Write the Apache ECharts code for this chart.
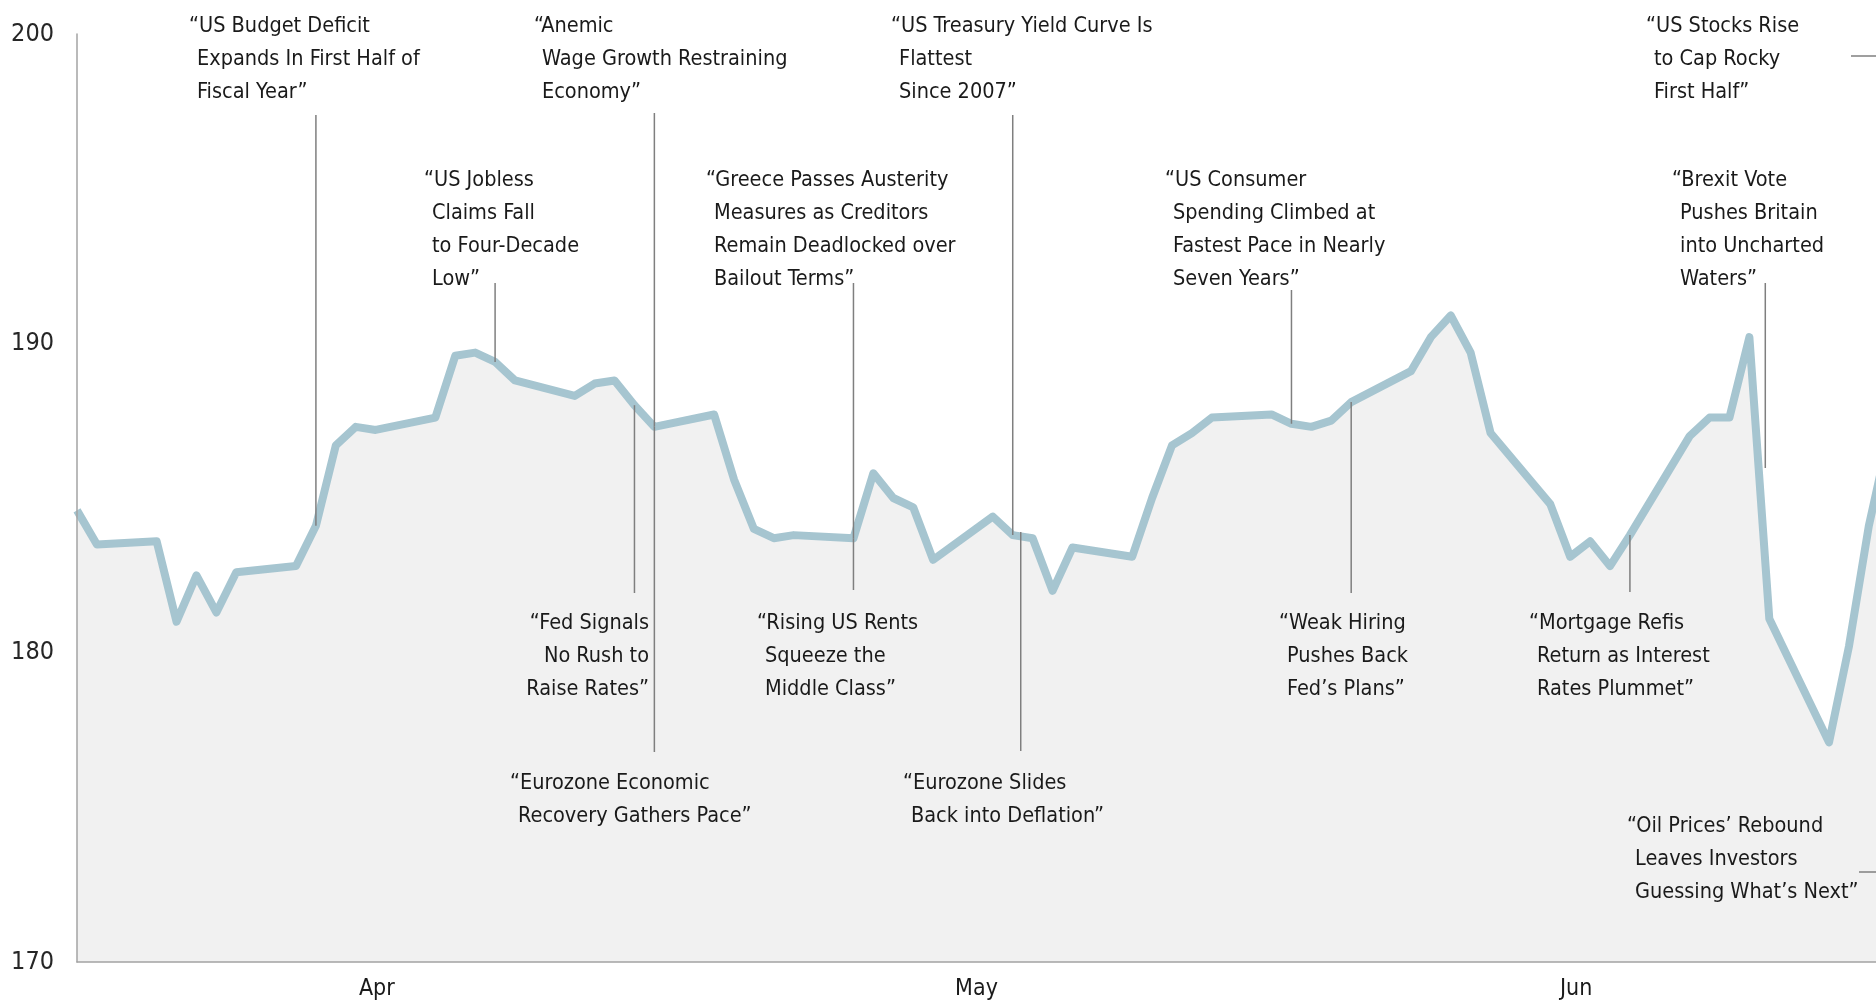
<!DOCTYPE html>
<html>
<head>
<meta charset="utf-8">
<script src="https://cdn.jsdelivr.net/npm/echarts@6/dist/echarts.min.js"></script>
<style>
  html, body { margin: 0; padding: 0; background: #fff; }
  #chart { width: 1876px; height: 1001px; }
</style>
</head>
<body>
<div id="chart"></div>
<script>
// daily closes
var dates = [
    '2016-03-31', '2016-04-01', '2016-04-04', '2016-04-05', '2016-04-06', '2016-04-07', '2016-04-08',
    '2016-04-11', '2016-04-12', '2016-04-13', '2016-04-14', '2016-04-15',
    '2016-04-18', '2016-04-19', '2016-04-20', '2016-04-21', '2016-04-22',
    '2016-04-25', '2016-04-26', '2016-04-27', '2016-04-28', '2016-04-29',
    '2016-05-02', '2016-05-03', '2016-05-04', '2016-05-05', '2016-05-06',
    '2016-05-09', '2016-05-10', '2016-05-11', '2016-05-12', '2016-05-13',
    '2016-05-16', '2016-05-17', '2016-05-18', '2016-05-19', '2016-05-20',
    '2016-05-23', '2016-05-24', '2016-05-25', '2016-05-26', '2016-05-27',
    '2016-05-30', '2016-05-31', '2016-06-01', '2016-06-02', '2016-06-03',
    '2016-06-06', '2016-06-07', '2016-06-08', '2016-06-09', '2016-06-10',
    '2016-06-13', '2016-06-14', '2016-06-15', '2016-06-16', '2016-06-17',
    '2016-06-20', '2016-06-21', '2016-06-22', '2016-06-23', '2016-06-24',
    '2016-06-27', '2016-06-28', '2016-06-29', '2016-06-30'
];
var values = [
    184.6, 183.5, 183.6, 181.0, 182.5, 181.3, 182.6,
    182.8, 184.1, 186.7, 187.3, 187.2,
    187.6, 189.6, 189.7, 189.4, 188.8,
    188.3, 188.7, 188.8, 188.0, 187.3,
    187.7, 185.6, 184.0, 183.7, 183.8,
    183.7, 185.8, 185.0, 184.7, 183.0,
    184.4, 183.8, 183.7, 182.0, 183.4,
    183.1, 185.0, 186.7, 187.1, 187.6,
    187.7, 187.4, 187.3, 187.5, 188.1,
    189.1, 190.2, 190.9, 189.7, 187.1,
    184.8, 183.1, 183.6, 182.8, 183.8,
    187.0, 187.6, 187.6, 190.2, 181.1,
    177.1, 180.2, 184.1, 187.0
];
var months = ['Apr', 'May', 'Jun'];

// headlines and the day each one points at
var headlines = [
    { date: '2016-04-12', lines: ['“US Budget Deficit', 'Expands In First Half of', 'Fiscal Year”'] },
    { date: '2016-04-29', lines: ['“Anemic', 'Wage Growth Restraining', 'Economy”'] },
    { date: '2016-04-21', lines: ['“US Jobless', 'Claims Fall', 'to Four-Decade', 'Low”'] },
    { date: '2016-05-17', lines: ['“US Treasury Yield Curve Is', 'Flattest', 'Since 2007”'] },
    { date: '2016-05-09', lines: ['“Greece Passes Austerity', 'Measures as Creditors', 'Remain Deadlocked over', 'Bailout Terms”'] },
    { date: '2016-05-09', lines: ['“Rising US Rents', 'Squeeze the', 'Middle Class”'] },
    { date: '2016-04-28', lines: ['“Fed Signals', 'No Rush to', 'Raise Rates”'] },
    { date: '2016-04-29', lines: ['“Eurozone Economic', 'Recovery Gathers Pace”'] },
    { date: '2016-05-17', lines: ['“Eurozone Slides', 'Back into Deflation”'] },
    { date: '2016-05-31', lines: ['“US Consumer', 'Spending Climbed at', 'Fastest Pace in Nearly', 'Seven Years”'] },
    { date: '2016-06-03', lines: ['“Weak Hiring', 'Pushes Back', 'Fed’s Plans”'] },
    { date: '2016-06-17', lines: ['“Mortgage Refis', 'Return as Interest', 'Rates Plummet”'] },
    { date: '2016-06-24', lines: ['“Brexit Vote', 'Pushes Britain', 'into Uncharted', 'Waters”'] },
    { date: '2016-06-30', lines: ['“US Stocks Rise', 'to Cap Rocky', 'First Half”'] },
    { date: '2016-06-30', lines: ['“Oil Prices’ Rebound', 'Leaves Investors', 'Guessing What’s Next”'] }
];

// where each headline sits (pixels) and how its leader line runs
var placement = [
    { x: 189, y: 23, lead: { from: 115 } },
    { x: 534, y: 23, lead: { from: 113 } },
    { x: 424, y: 177, lead: { from: 283 } },
    { x: 891, y: 23, lead: { from: 115 } },
    { x: 706, y: 177, lead: { from: 283 } },
    { x: 757, y: 620, lead: { from: 590 } },
    { x: 649, y: 620, align: 'right', lead: { from: 593 } },
    { x: 510, y: 780, lead: { from: 752 } },
    { x: 903, y: 780, lead: { from: 751, to: 532, dx: 8 } },
    { x: 1165, y: 177, lead: { from: 290 } },
    { x: 1279, y: 620, lead: { from: 593 } },
    { x: 1529, y: 620, lead: { from: 592 } },
    { x: 1672, y: 177, lead: { from: 283, to: 468, dx: -4 } },
    { x: 1646, y: 23, lead: { flat: true, y: 56, from: 1851 } },
    { x: 1627, y: 823, lead: { flat: true, y: 872, from: 1859 } }
];

var DAY = 86400000;
function toTime(s) {
    var p = s.split('-');
    return Date.UTC(+p[0], +p[1] - 1, +p[2]);
}
var textFont = '"Liberation Sans Narrow", "Arial Narrow", "DejaVu Sans Condensed", sans-serif';
var xMin = toTime(dates[0]);
var xMax = xMin + 90.36 * DAY;

var chart = echarts.init(document.getElementById('chart'));
chart.setOption({
    animation: false,
    backgroundColor: '#ffffff',
    grid: { left: 77, right: 0, top: 34, bottom: 38, containLabel: false },
    xAxis: [{
        type: 'time',
        min: xMin,
        max: xMax,
        position: 'bottom',
        z: 5,
        axisLine: { show: true, lineStyle: { color: '#a3a3a3', width: 1.5 } },
        axisTick: { show: false },
        axisLabel: { show: false },
        splitLine: { show: false }
    }, {
        type: 'category',
        data: months,
        position: 'bottom',
        boundaryGap: true,
        axisLine: { show: false },
        axisTick: { show: false },
        splitLine: { show: false },
        axisLabel: {
            margin: 16,
            fontSize: 23,
            color: '#1a1a1a',
            fontFamily: textFont
        }
    }],
    yAxis: {
        type: 'value',
        min: 170,
        max: 200,
        interval: 10,
        z: 5,
        axisLine: { show: true, lineStyle: { color: '#a3a3a3', width: 1.5 } },
        axisTick: { show: false },
        splitLine: { show: false },
        axisLabel: {
            margin: 23,
            fontSize: 25,
            color: '#262626',
            fontFamily: textFont
        }
    },
    series: [{
        type: 'line',
        xAxisIndex: 0,
        data: dates.map(function (d, i) { return [toTime(d), values[i]]; }),
        symbol: 'none',
        lineStyle: { color: '#a6c5d0', width: 8, join: 'round' },
        areaStyle: { color: '#f1f1f1', opacity: 1, origin: 'start' },
        silent: true,
        z: 2
    }]
});

// headlines + leader lines, anchored to the series through the axes
var valueOf = {};
dates.forEach(function (d, i) { valueOf[d] = values[i]; });

var graphics = [];
headlines.forEach(function (h, i) {
    var p = placement[i];
    var right = p.align === 'right';
    h.lines.forEach(function (line, k) {
        graphics.push({
            type: 'text',
            x: right || k === 0 ? p.x : p.x + 8,
            y: p.y + 3 + k * 33,
            z: 100,
            style: {
                text: line,
                fill: '#1a1a1a',
                font: '21.5px ' + textFont,
                align: right ? 'right' : 'left',
                verticalAlign: 'middle'
            }
        });
    });
    var lead = p.lead;
    var t = toTime(h.date);
    var shape;
    if (lead.flat) {
        var xe = chart.convertToPixel({ xAxisIndex: 0 }, t);
        shape = { x1: lead.from, y1: lead.y, x2: xe, y2: lead.y };
    } else {
        var pt = chart.convertToPixel({ xAxisIndex: 0, yAxisIndex: 0 }, [t, valueOf[h.date]]);
        var x = pt[0] + (lead.dx || 0);
        shape = { x1: x, y1: lead.from, x2: x, y2: lead.to != null ? lead.to : pt[1] };
    }
    graphics.push({
        type: 'line',
        z: 99,
        shape: shape,
        style: { stroke: '#7f7f7f', lineWidth: 1.5 }
    });
});
chart.setOption({ graphic: graphics });
</script>
</body>
</html>
